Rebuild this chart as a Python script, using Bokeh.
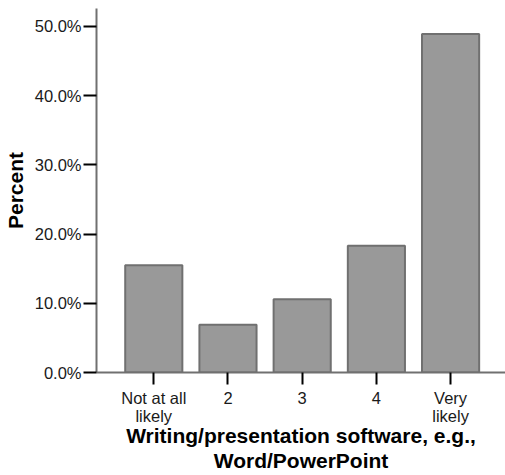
from bokeh.plotting import figure
from bokeh.models import Range1d, FixedTicker, PrintfTickFormatter, ColumnDataSource
from bokeh.embed import file_html
from bokeh.resources import INLINE

categories = ["Not at all\nlikely", "2", "3", "4", "Very\nlikely"]
positions = [1, 2, 3, 4, 5]
percents = [15.5, 6.9, 10.6, 18.3, 48.9]
y_ticks = [0, 10, 20, 30, 40, 50]
x_title = "Writing/presentation software, e.g.,\nWord/PowerPoint"
y_title = "Percent"

src = ColumnDataSource(dict(x=positions, top=percents))

p = figure(width=505, height=475, output_backend="svg", toolbar_location=None,
           x_range=Range1d(0.228, 5.74), y_range=Range1d(0, 52.59),
           min_border_left=96, min_border_right=0, min_border_top=8, min_border_bottom=101)
p.outline_line_color = None
p.xgrid.grid_line_color = None
p.ygrid.grid_line_color = None

p.vbar(x="x", top="top", bottom=0, width=0.77, source=src, fill_color="#999999",
       line_color="#707070", line_width=2)

FONT = "Liberation Sans"

p.xaxis.ticker = FixedTicker(ticks=positions)
p.xaxis.major_label_overrides = {pos: lab for pos, lab in zip(positions, categories)}
p.xaxis.minor_tick_line_color = None
p.xaxis.axis_line_color = "#707070"
p.xaxis.axis_line_width = 2
p.xaxis.major_tick_line_color = "black"
p.xaxis.major_tick_line_width = 2
p.xaxis.major_tick_in = 0
p.xaxis.major_tick_out = 12
p.xaxis.major_label_standoff = 4
p.xaxis.major_label_text_font = FONT
p.xaxis.major_label_text_font_size = "16.5px"
p.xaxis.major_label_text_line_height = 1.05
p.xaxis.major_label_text_color = "#1a1a1a"
p.xaxis.axis_label = x_title
p.xaxis.axis_label_text_font = FONT
p.xaxis.axis_label_text_font_size = "21px"
p.xaxis.axis_label_text_font_style = "bold"
p.xaxis.axis_label_text_color = "black"
p.xaxis.axis_label_text_line_height = 1.07
p.xaxis.axis_label_standoff = -4

p.yaxis.ticker = FixedTicker(ticks=y_ticks)
p.yaxis.formatter = PrintfTickFormatter(format="%.1f%%")
p.yaxis.minor_tick_line_color = None
p.yaxis.axis_line_color = "#707070"
p.yaxis.axis_line_width = 2
p.yaxis.major_tick_line_color = "black"
p.yaxis.major_tick_line_width = 2
p.yaxis.major_tick_in = 0
p.yaxis.major_tick_out = 13
p.yaxis.major_label_standoff = 2
p.yaxis.major_label_text_font = FONT
p.yaxis.major_label_text_font_size = "16.5px"
p.yaxis.major_label_text_color = "#1a1a1a"
p.yaxis.axis_label = y_title
p.yaxis.axis_label_text_font = FONT
p.yaxis.axis_label_text_font_size = "21px"
p.yaxis.axis_label_text_font_style = "bold"
p.yaxis.axis_label_text_color = "black"
p.yaxis.axis_label_standoff = 5

open("out.html", "w").write(file_html(p, INLINE))
